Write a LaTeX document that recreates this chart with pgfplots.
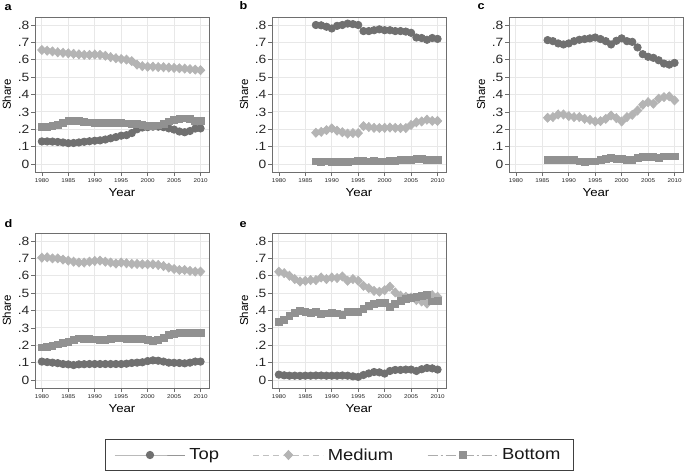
\documentclass[border=0pt]{standalone}
\usepackage{fontspec}
\setmainfont{Liberation Sans}[FakeStretch=1.15]
\newfontfamily\plainsans{Liberation Sans}
\usepackage{pgfplots}
\pgfplotsset{compat=1.18}
\usepackage{pgfplotstable}

\definecolor{ctop}{RGB}{112,112,112}
\definecolor{cmed}{RGB}{180,180,180}
\definecolor{cbot}{RGB}{145,145,145}
\definecolor{ltop}{RGB}{150,150,150}
\definecolor{lmed}{RGB}{192,192,192}
\definecolor{lbot}{RGB}{172,172,172}
\definecolor{gridc}{RGB}{232,232,232}
\definecolor{axc}{RGB}{110,110,110}

\pgfplotstableread{
year top med bot
1980 .130 .656 .213
1981 .130 .652 .215
1982 .129 .648 .218
1983 .127 .643 .225
1984 .124 .640 .238
1985 .120 .637 .247
1986 .121 .634 .248
1987 .124 .631 .247
1988 .128 .628 .243
1989 .131 .628 .240
1990 .134 .630 .238
1991 .136 .628 .236
1992 .141 .623 .235
1993 .148 .615 .236
1994 .155 .609 .237
1995 .163 .604 .235
1996 .166 .601 .234
1997 .178 .592 .231
1998 .200 .572 .229
1999 .210 .563 .226
2000 .212 .560 .221
2001 .215 .560 .219
2002 .215 .558 .222
2003 .212 .557 .232
2004 .205 .555 .245
2005 .198 .553 .253
2006 .187 .551 .258
2007 .183 .549 .262
2008 .190 .546 .260
2009 .204 .543 .250
2010 .205 .540 .249
}\dataA

\pgfplotstableread{
year top med bot
1987 .800 .180 .015
1988 .798 .185 .012
1989 .790 .195 .015
1990 .780 .205 .012
1991 .795 .192 .012
1992 .800 .183 .010
1993 .808 .175 .012
1994 .805 .178 .015
1995 .800 .178 .018
1996 .765 .218 .018
1997 .765 .213 .015
1998 .770 .208 .018
1999 .775 .207 .015
2000 .770 .208 .015
2001 .770 .210 .018
2002 .765 .208 .020
2003 .765 .207 .022
2004 .762 .207 .025
2005 .755 .225 .025
2006 .728 .240 .030
2007 .725 .245 .030
2008 .715 .255 .025
2009 .725 .248 .022
2010 .720 .248 .022
}\dataB

\pgfplotstableread{
year top med bot
1986 .713 .266 .023
1987 .707 .270 .025
1988 .694 .285 .025
1989 .688 .285 .023
1990 .694 .276 .025
1991 .707 .270 .023
1992 .715 .270 .015
1993 .719 .260 .014
1994 .723 .254 .015
1995 .728 .245 .015
1996 .719 .247 .023
1997 .707 .260 .029
1998 .688 .279 .033
1999 .709 .264 .029
2000 .723 .245 .029
2001 .707 .270 .023
2002 .703 .283 .023
2003 .671 .308 .033
2004 .632 .341 .039
2005 .617 .356 .039
2006 .611 .347 .039
2007 .597 .376 .033
2008 .578 .385 .044
2009 .572 .389 .044
2010 .582 .366 .044
}\dataC

\pgfplotstableread{
year top med bot
1980 .106 .704 .188
1981 .103 .706 .192
1982 .100 .700 .198
1983 .097 .700 .205
1984 .092 .693 .215
1985 .090 .687 .221
1986 .086 .681 .230
1987 .090 .676 .240
1988 .091 .676 .236
1989 .092 .681 .236
1990 .092 .685 .234
1991 .092 .687 .230
1992 .092 .681 .231
1993 .092 .676 .236
1994 .092 .670 .240
1995 .092 .676 .240
1996 .094 .672 .238
1997 .098 .668 .238
1998 .100 .668 .238
1999 .102 .666 .236
2000 .109 .666 .230
2001 .113 .666 .226
2002 .111 .662 .230
2003 .106 .656 .244
2004 .100 .647 .259
2005 .099 .639 .267
2006 .098 .633 .271
2007 .096 .633 .273
2008 .100 .628 .273
2009 .106 .624 .269
2010 .106 .624 .269
}\dataD

\pgfplotstableread{
year top med bot
1980 .031 .623 .335
1981 .027 .615 .346
1982 .025 .600 .369
1983 .025 .581 .388
1984 .024 .567 .398
1985 .025 .571 .394
1986 .025 .575 .388
1987 .026 .575 .392
1988 .026 .590 .379
1989 .025 .581 .383
1990 .025 .590 .385
1991 .025 .587 .383
1992 .026 .596 .375
1993 .025 .571 .394
1994 .021 .581 .392
1995 .018 .571 .394
1996 .029 .542 .408
1997 .038 .529 .427
1998 .046 .513 .440
1999 .044 .508 .446
2000 .037 .517 .446
2001 .052 .537 .421
2002 .058 .504 .440
2003 .058 .485 .456
2004 .060 .479 .465
2005 .060 .475 .471
2006 .052 .460 .479
2007 .062 .452 .485
2008 .069 .440 .488
2009 .067 .488 .452
2010 .060 .479 .456
}\dataE

\pgfplotsset{
  stop/.style={color=ltop, line width=0.8pt, solid, mark=*, mark size=3.7pt,
    mark options={draw=ctop, fill=ctop, solid}},
  smed/.style={color=lmed, line width=0.8pt, dash pattern=on 6pt off 4pt, mark=diamond*, mark size=4.5pt,
    mark options={draw=cmed, fill=cmed, solid, xscale=1.25}},
  sbot/.style={color=lbot, line width=0.8pt, dash pattern=on 10pt off 3pt on 2pt off 3pt, mark=square*, mark size=3.4pt,
    mark options={draw=cbot, fill=cbot, solid}},
  panel/.style={
    scale only axis, width=174pt, height=155pt, anchor=north west,
    xmin=1978.7, xmax=2011.6, ymin=-0.046, ymax=0.846,
    xtick={1980,1985,1990,1995,2000,2005,2010},
    xticklabels={1980,1985,1990,1995,2000,2005,2010},
    ytick={0,0.1,0.2,0.3,0.4,0.5,0.6,0.7,0.8},
    yticklabels={0,.1,.2,.3,.4,.5,.6,.7,.8},
    grid=major, major grid style={gridc, line width=0.8pt},
    tick align=outside, tick pos=left, major tick length=4pt,
    axis line style={axc, line width=0.7pt}, tick style={axc, line width=0.7pt},
    xticklabel style={font=\fontsize{5.5}{6}\selectfont, text=black!85, inner sep=2pt},
    yticklabel style={font=\fontsize{12}{12}\selectfont, text=black!85, inner sep=1.5pt},
    xlabel={Year}, ylabel={\plainsans Share},
    xlabel style={font=\fontsize{11.5}{12}\selectfont, at={(axis description cs:0.5,0)}, anchor=base, yshift=-24pt},
    ylabel style={font=\fontsize{11.5}{12}\selectfont, at={(axis description cs:0,0.5)}, anchor=base, yshift=24pt},
  }
}

\begin{document}
\begin{tikzpicture}
\path[use as bounding box] (0pt,0pt) rectangle (685pt,-474pt);

\begin{axis}[panel, at={(35pt,-17pt)}]
\addplot[stop] table[x=year,y=top] {\dataA};
\addplot[smed] table[x=year,y=med] {\dataA};
\addplot[sbot] table[x=year,y=bot] {\dataA};
\end{axis}

\begin{axis}[panel, at={(272pt,-17pt)}]
\addplot[stop] table[x=year,y=top] {\dataB};
\addplot[smed] table[x=year,y=med] {\dataB};
\addplot[sbot] table[x=year,y=bot] {\dataB};
\end{axis}

\begin{axis}[panel, at={(509pt,-17pt)}]
\addplot[stop] table[x=year,y=top] {\dataC};
\addplot[smed] table[x=year,y=med] {\dataC};
\addplot[sbot] table[x=year,y=bot] {\dataC};
\end{axis}

\begin{axis}[panel, at={(35pt,-233pt)}]
\addplot[stop] table[x=year,y=top] {\dataD};
\addplot[smed] table[x=year,y=med] {\dataD};
\addplot[sbot] table[x=year,y=bot] {\dataD};
\end{axis}

\begin{axis}[panel, at={(272pt,-233pt)}]
\addplot[stop] table[x=year,y=top] {\dataE};
\addplot[smed] table[x=year,y=med] {\dataE};
\addplot[sbot] table[x=year,y=bot] {\dataE};
\end{axis}

\begin{axis}[hide axis, scale only axis, width=10pt, height=10pt, at={(339.5pt,-455pt)}, anchor=center,
  xmin=0, xmax=1, ymin=0, ymax=1, legend columns=3,
  legend image code/.code={\draw[mark repeat=2,mark phase=2,#1] plot coordinates {(0pt,0pt) (35pt,0pt) (70pt,0pt)};},
  legend style={at={(0.5,0.5)}, anchor=center, draw=black!75, line width=0.8pt,
    font=\fontsize{16}{16}\selectfont, inner xsep=9pt, inner ysep=5pt,
    /tikz/every even column/.append style={column sep=30pt},
    nodes={inner sep=4pt, text=black!90}}]
\addlegendimage{stop}
\addlegendentry{Top}
\addlegendimage{smed}
\addlegendentry{Medium}
\addlegendimage{sbot}
\addlegendentry{Bottom}
\end{axis}

\node[anchor=base west, font=\bfseries\fontsize{11}{11}\selectfont] at (1pt,-10pt) {a};
\node[anchor=base west, font=\bfseries\fontsize{11}{11}\selectfont] at (236pt,-9.5pt) {b};
\node[anchor=base west, font=\bfseries\fontsize{11}{11}\selectfont] at (474pt,-9.5pt) {c};
\node[anchor=base west, font=\bfseries\fontsize{11}{11}\selectfont] at (1pt,-227pt) {d};
\node[anchor=base west, font=\bfseries\fontsize{11}{11}\selectfont] at (236pt,-227.5pt) {e};
\end{tikzpicture}
\end{document}
